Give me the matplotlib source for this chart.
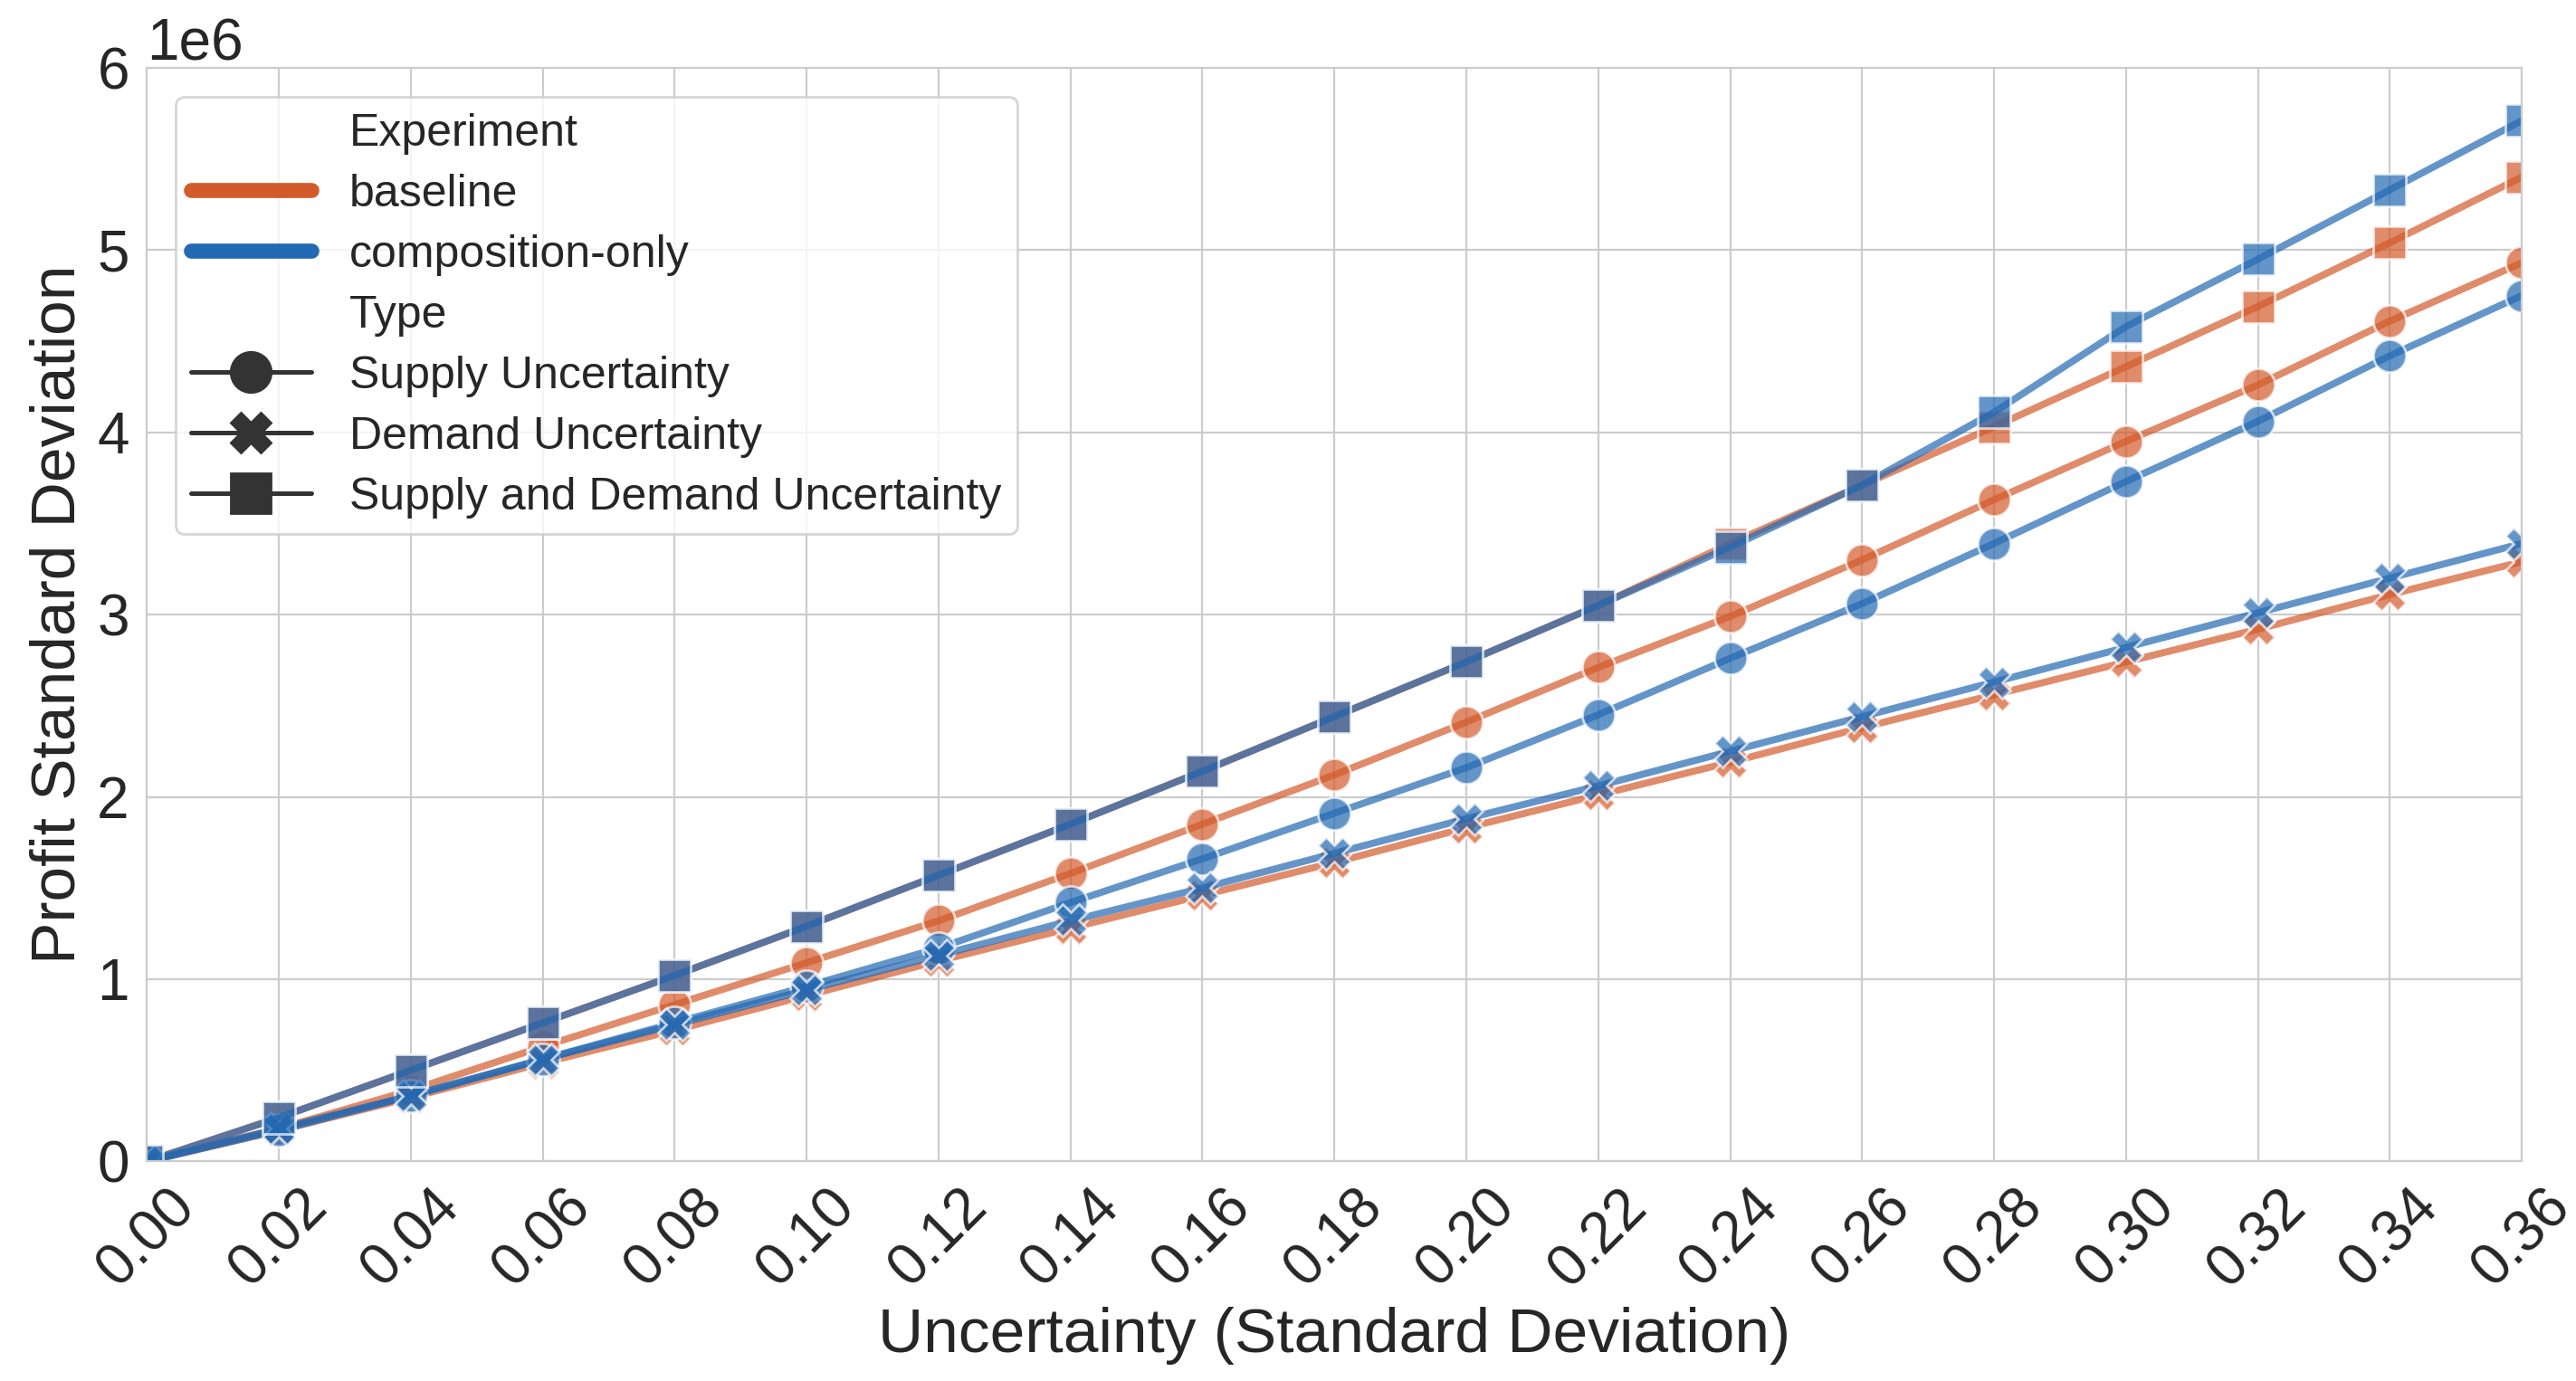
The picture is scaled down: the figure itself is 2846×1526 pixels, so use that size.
import matplotlib
matplotlib.use("Agg")
import matplotlib.pyplot as plt
from matplotlib.lines import Line2D
import numpy as np
import pandas as pd
import seaborn as sns

# uncertainty levels (x axis)
uncertainty = [0.00, 0.02, 0.04, 0.06, 0.08, 0.10, 0.12, 0.14, 0.16, 0.18,
               0.20, 0.22, 0.24, 0.26, 0.28, 0.30, 0.32, 0.34, 0.36]

# profit standard deviation, in millions
baseline_supply = [0, 0.18, 0.39, 0.63, 0.86, 1.09, 1.32, 1.58, 1.85, 2.12,
                   2.41, 2.71, 2.99, 3.30, 3.63, 3.95, 4.26, 4.61, 4.93]
baseline_demand = [0, 0.17, 0.35, 0.54, 0.72, 0.91, 1.10, 1.28, 1.46, 1.64,
                   1.83, 2.01, 2.19, 2.38, 2.56, 2.74, 2.92, 3.11, 3.29]
baseline_both = [0, 0.24, 0.50, 0.76, 1.02, 1.29, 1.57, 1.85, 2.14, 2.44,
                 2.74, 3.05, 3.39, 3.71, 4.03, 4.36, 4.69, 5.04, 5.40]
comp_supply = [0, 0.17, 0.36, 0.56, 0.76, 0.96, 1.17, 1.42, 1.66, 1.91,
               2.16, 2.45, 2.76, 3.06, 3.39, 3.73, 4.06, 4.42, 4.75]
comp_demand = [0, 0.18, 0.36, 0.56, 0.75, 0.94, 1.13, 1.32, 1.50, 1.69,
               1.88, 2.06, 2.25, 2.44, 2.63, 2.82, 3.01, 3.20, 3.39]
comp_both = [0, 0.24, 0.50, 0.76, 1.02, 1.29, 1.57, 1.85, 2.14, 2.44,
             2.74, 3.05, 3.37, 3.71, 4.11, 4.58, 4.95, 5.33, 5.71]

experiments = ["baseline", "composition-only"]
types = ["Supply Uncertainty", "Demand Uncertainty", "Supply and Demand Uncertainty"]
colours = {"baseline": "#d35a2b", "composition-only": "#2369b3"}
markers = {"Supply Uncertainty": "o", "Demand Uncertainty": "X",
           "Supply and Demand Uncertainty": "s"}

series = {
    ("baseline", "Supply Uncertainty"): baseline_supply,
    ("baseline", "Demand Uncertainty"): baseline_demand,
    ("baseline", "Supply and Demand Uncertainty"): baseline_both,
    ("composition-only", "Supply Uncertainty"): comp_supply,
    ("composition-only", "Demand Uncertainty"): comp_demand,
    ("composition-only", "Supply and Demand Uncertainty"): comp_both,
}

rows = []
for (exp, typ), vals in series.items():
    for x, v in zip(uncertainty, vals):
        rows.append({"Uncertainty": x, "Profit": v * 1e6, "Experiment": exp, "Type": typ})
df = pd.DataFrame(rows)

sns.set_style("whitegrid")
plt.rcParams["font.family"] = ["Liberation Sans", "DejaVu Sans"]

fig, ax = plt.subplots(figsize=(14.23, 7.63), dpi=200)
fig.subplots_adjust(left=0.057, right=0.979, top=0.951, bottom=0.159)

sns.lineplot(data=df, x="Uncertainty", y="Profit", hue="Experiment", style="Type",
             hue_order=experiments, style_order=types, palette=colours,
             markers=markers, dashes=False, alpha=0.7, linewidth=2.8,
             markersize=13, markeredgecolor="white", markeredgewidth=1,
             legend=False, ax=ax)

ax.set_xlim(0, 0.36)
ax.set_ylim(0, 6e6)
ax.set_xticks(uncertainty)
ax.set_xticklabels([f"{x:.2f}" for x in uncertainty], rotation=45)
ax.tick_params(axis="both", labelsize=23)
ax.yaxis.get_offset_text().set_fontsize(23)
ax.set_xlabel("Uncertainty (Standard Deviation)", fontsize=25)
ax.set_ylabel("Profit Standard Deviation", fontsize=25)
for s in ax.spines.values():
    s.set_color("#cccccc")

# legend built by hand, seaborn style
blank = Line2D([], [], linestyle="none", marker=None)
handles = [blank]
labels = ["Experiment"]
for exp in experiments:
    handles.append(Line2D([], [], color=colours[exp], linewidth=6, solid_capstyle="round"))
    labels.append(exp)
handles.append(blank)
labels.append("Type")
for typ in types:
    handles.append(Line2D([], [], color="#333333", marker=markers[typ], markersize=16,
                          linewidth=1.8, markeredgecolor="#333333"))
    labels.append(typ)
ax.legend(handles, labels, loc="upper left", bbox_to_anchor=(0.012, 0.973),
          borderaxespad=0, fontsize=18, labelspacing=0.42, handlelength=2.65,
          handletextpad=0.85, borderpad=0.35, frameon=True)

fig.savefig("out.png", dpi=200)
